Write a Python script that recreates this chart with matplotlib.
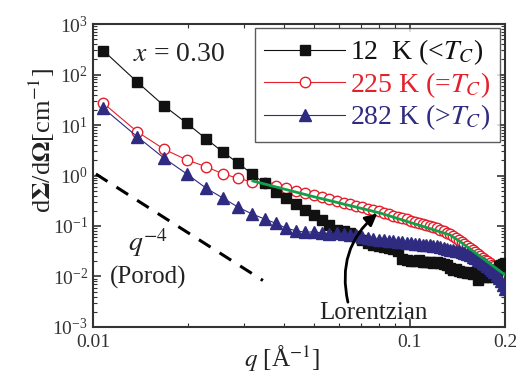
"""
SANS intensity vs q, x = 0.30
"""
import matplotlib
matplotlib.use("Agg")
import matplotlib.pyplot as plt
from matplotlib.ticker import FixedLocator, FixedFormatter, LogLocator, NullFormatter

plt.rcParams['font.family'] = ['Liberation Serif', 'DejaVu Serif']
plt.rcParams['mathtext.fontset'] = 'stix'

BLACK = "#111111"
RED = "#e3202b"
BLUE = "#2e2b80"
GREEN = "#11a04a"

q = [0.0108, 0.0138, 0.0168, 0.0198, 0.0228, 0.0258, 0.0288, 0.0318,
     0.0348, 0.0378, 0.0408, 0.0438, 0.0468, 0.0498, 0.0528, 0.0558,
     0.0588, 0.0618, 0.0648, 0.0678, 0.0708, 0.0738, 0.0768, 0.0798,
     0.0828, 0.0858, 0.0888, 0.0918, 0.0948, 0.0978, 0.1008, 0.1038,
     0.1068, 0.1098, 0.1128, 0.1158, 0.1188, 0.1218, 0.1248, 0.1278,
     0.1308, 0.1338, 0.1368, 0.1398, 0.1428, 0.1458, 0.1488, 0.1518,
     0.1548, 0.1578, 0.1608, 0.1638, 0.1668, 0.1698, 0.1728, 0.1758,
     0.1788, 0.1818, 0.1848, 0.1878, 0.1908, 0.1938, 0.1968, 0.1998]

# 12 K
i_12k = [296, 71.0, 23.8, 10.8, 5.28, 2.88, 1.74, 1.07,
         0.70, 0.478, 0.354, 0.273, 0.207, 0.165, 0.1315, 0.1047,
         0.0833, 0.0796, 0.0727, 0.0634, 0.0528, 0.0461, 0.0421, 0.0402,
         0.0384, 0.0367, 0.0351, 0.0320, 0.0222, 0.0212, 0.0203, 0.0203,
         0.0212, 0.0194, 0.0194, 0.0194, 0.0185, 0.0194, 0.0185, 0.0177,
         0.0169, 0.0147, 0.01345, 0.0141, 0.01285, 0.01228, 0.0123, 0.01173,
         0.0117, 0.0112, 0.0123, 0.00853, 0.0102, 0.00977, 0.0102, 0.0098,
         0.0102, 0.0098, 0.0112, 0.0123, 0.0161, 0.0169, 0.0177, 0.0185]

# 225 K
i_225k = [26.9, 7.37, 3.30, 2.03, 1.49, 1.07, 0.880, 0.744,
          0.710, 0.620, 0.553, 0.493, 0.450, 0.402, 0.367, 0.335,
          0.313, 0.285, 0.267, 0.249, 0.2325, 0.217, 0.207, 0.194,
          0.181, 0.173, 0.1614, 0.1507, 0.1408, 0.1345, 0.1256, 0.120,
          0.1147, 0.1096, 0.1047, 0.100, 0.0955, 0.0912, 0.0852, 0.0796,
          0.0727, 0.0695, 0.0634, 0.0578, 0.0528, 0.0482, 0.0440, 0.0402,
          0.0367, 0.0335, 0.0306, 0.0279, 0.0255, 0.0232, 0.0212, 0.0203,
          0.0185, 0.0169, 0.0161, 0.0147, 0.0134, 0.0123, 0.0102, 0.0098]

# 282 K
i_282k = [21.4, 5.87, 2.19, 1.07, 0.558, 0.354, 0.234, 0.173,
          0.138, 0.113, 0.090, 0.0807, 0.075, 0.077, 0.0727, 0.071,
          0.0727, 0.0695, 0.0664, 0.0649, 0.0606, 0.0578, 0.0553, 0.054,
          0.0528, 0.0516, 0.0504, 0.0493, 0.0482, 0.0471, 0.0461, 0.0450,
          0.0440, 0.0430, 0.0421, 0.0411, 0.0402, 0.0393, 0.0384, 0.0375,
          0.0358, 0.0342, 0.0335, 0.0320, 0.0313, 0.0299, 0.0292, 0.0273,
          0.0261, 0.0243, 0.0232, 0.0217, 0.0203, 0.0189, 0.0177, 0.0161,
          0.0147, 0.0134, 0.0123, 0.0107, 0.0093, 0.0081, 0.0068, 0.0057]

# Lorentzian fit
q_fit = [0.0320, 0.0502, 0.0806, 0.1142, 0.1341, 0.1463, 0.1729, 0.2000]
i_fit = [0.778, 0.375, 0.181, 0.0912, 0.0664, 0.046, 0.0212, 0.0107]

# Porod q^-4 guide
q_porod = [0.01022, 0.0344]
i_porod = [1.07, 0.00834]

labels = [r"12  K (<$T_{C}$)", r"225 K (=$T_{C}$)", r"282 K (>$T_{C}$)"]

fig = plt.figure(figsize=(5.16, 3.80), dpi=100)
ax = fig.add_axes([0.180, 0.1395, 0.799, 0.7973])

ax.plot(q, i_225k, '-o', color=RED, lw=0.8, ms=7.5, mfc='white', mec=RED,
        mew=1.0, label=labels[1], zorder=2)
ax.plot(q, i_12k, '-s', color=BLACK, lw=0.8, ms=6.5, label=labels[0], zorder=3)
ax.plot(q, i_282k, '-^', color=BLUE, lw=0.8, ms=8, label=labels[2], zorder=4)
ax.plot(q_fit, i_fit, '-', color=GREEN, lw=2.0, zorder=5)
ax.plot(q_porod, i_porod, '--', color='k', lw=2.2, dashes=(4.5, 3.5), zorder=5)

ax.set_xscale('log')
ax.set_yscale('log')
ax.set_xlim(0.01, 0.2)
ax.set_ylim(1e-3, 1e3)

ax.xaxis.set_major_locator(FixedLocator([0.01, 0.1, 0.2]))
ax.xaxis.set_major_formatter(FixedFormatter(["0.01", "0.1", "0.2"]))
ax.xaxis.set_minor_locator(LogLocator(base=10, subs=range(2, 10), numticks=20))
ax.xaxis.set_minor_formatter(NullFormatter())
ax.yaxis.set_major_locator(LogLocator(base=10, numticks=10))
ax.yaxis.set_minor_locator(LogLocator(base=10, subs=range(2, 10), numticks=20))
ax.yaxis.set_minor_formatter(NullFormatter())

ax.tick_params(which='both', direction='in', top=True, right=True,
               colors='#333333', labelcolor='#333333', labelsize=14)
ax.tick_params(which='major', length=6, width=1.2)
ax.tick_params(which='minor', length=3, width=0.8)
ax.tick_params(axis='x', which='major', pad=5)
for spine in ax.spines.values():
    spine.set_linewidth(1.5)
    spine.set_color('#333333')

fig.text(0.082, 0.63, r"d$\mathbf{\Sigma}$/d$\mathbf{\Omega}$[cm$^{-1}$]",
         rotation=90, ha='center', va='center', fontsize=19, color='#222222')
fig.text(0.547, 0.055, r"$q$ [Å$^{-1}$]", ha='center', va='center',
         fontsize=18, color='#222222')

ax.text(0.21, 0.90, r"$x$ = 0.30", transform=ax.transAxes, ha='center',
        va='center', fontsize=20, color='#222222')
ax.text(0.135, 0.28, r"$q^{-4}$", transform=ax.transAxes, ha='center',
        va='center', fontsize=20, color='#222222')
ax.text(0.135, 0.165, "(Porod)", transform=ax.transAxes, ha='center',
        va='center', fontsize=18, color='#222222')

ax.annotate("", xy=(0.079, 0.178), xytext=(0.0638, 0.0031),
            arrowprops=dict(arrowstyle='-|>', color='k', lw=2.0,
                            mutation_scale=18, shrinkA=0, shrinkB=0,
                            connectionstyle="arc3,rad=-0.3"),
            zorder=6)
ax.text(0.0766, 0.0019, "Lorentzian", ha='center', va='center', fontsize=18,
        color='#222222')

handles, labs = ax.get_legend_handles_labels()
order = [1, 0, 2]
leg = ax.legend([handles[i] for i in order], [labs[i] for i in order],
                loc='upper right', bbox_to_anchor=(0.988, 0.987),
                borderaxespad=0, fontsize=20, handlelength=2.9,
                handletextpad=0.2, labelspacing=0.1, borderpad=0.35,
                fancybox=False, frameon=True)
leg.get_frame().set_edgecolor('#333333')
leg.get_frame().set_linewidth(1.0)
for text, col in zip(leg.get_texts(), [BLACK, RED, BLUE]):
    text.set_color(col)

fig.savefig("out.png", dpi=100)
